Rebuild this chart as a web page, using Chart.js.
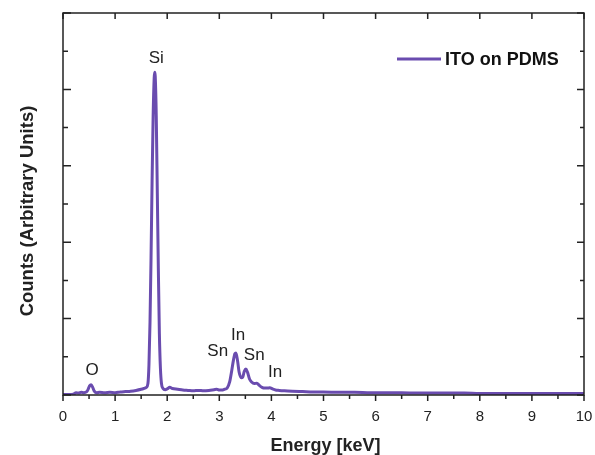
<!DOCTYPE html>
<html>
<head>
<meta charset="utf-8">
<script src="https://cdn.jsdelivr.net/npm/chart.js@4"></script>
<style>
  body { margin: 0; background: #fff; }
  canvas { display: block; }
</style>
</head>
<body>
<canvas id="eds" width="595" height="455"></canvas>
<script>
// Espectro EDS (energia em keV, contagens em unidades arbitrarias)
const energia = [0, 0.1, 0.2, 0.25, 0.3, 0.35, 0.4, 0.45, 0.48, 0.51, 0.54, 0.57, 0.6, 0.65, 0.7, 0.8, 0.9, 1.0,
  1.1, 1.2, 1.3, 1.4, 1.5, 1.55, 1.6, 1.63, 1.65, 1.67, 1.69, 1.71, 1.73, 1.75, 1.76, 1.77, 1.79, 1.81, 1.83,
  1.85, 1.87, 1.89, 1.92, 1.96, 2.0, 2.05, 2.1, 2.2, 2.3, 2.4, 2.5, 2.6, 2.7, 2.8, 2.9, 2.95, 3.0, 3.05, 3.1,
  3.15, 3.2, 3.24, 3.27, 3.3, 3.32, 3.35, 3.38, 3.42, 3.45, 3.48, 3.51, 3.54, 3.58, 3.62, 3.67, 3.72, 3.77,
  3.82, 3.87, 3.92, 3.97, 4.02, 4.08, 4.15, 4.25, 4.4, 4.6, 4.8, 5.0, 5.3, 5.6, 5.9, 6.2, 6.5, 6.8, 7.1, 7.4,
  7.7, 8.0, 8.3, 8.6, 8.9, 9.2, 9.5, 9.8, 10.0];
const contagens = [0.01, 0.01, 0.02, 0.06, 0.05, 0.07, 0.06, 0.08, 0.14, 0.24, 0.27, 0.2, 0.1, 0.06, 0.07, 0.06, 0.07, 0.06,
  0.08, 0.09, 0.1, 0.12, 0.15, 0.17, 0.2, 0.3, 0.8, 1.9, 3.6, 5.6, 7.3, 8.3, 8.45, 8.35, 7.3, 5.3, 3.3,
  1.6, 0.7, 0.3, 0.17, 0.14, 0.16, 0.2, 0.17, 0.15, 0.13, 0.12, 0.11, 0.12, 0.11, 0.12, 0.14, 0.15, 0.13, 0.13, 0.15,
  0.18, 0.35, 0.65, 0.9, 1.08, 1.1, 0.9, 0.6, 0.45, 0.47, 0.62, 0.68, 0.6, 0.42, 0.34, 0.3, 0.31, 0.25,
  0.2, 0.18, 0.18, 0.19, 0.16, 0.13, 0.12, 0.11, 0.1, 0.09, 0.08, 0.08, 0.07, 0.07, 0.06, 0.06, 0.06, 0.05, 0.05, 0.05,
  0.05, 0.04, 0.04, 0.04, 0.04, 0.04, 0.04, 0.04, 0.04];

// Rotulos dos picos (elemento, energia, altura do texto)
const picos = ['O', 'Si', 'Sn', 'In', 'Sn', 'In'];
const picosX = [0.56, 1.79, 2.97, 3.36, 3.67, 4.07];
const picosY = [0.52, 8.69, 1.02, 1.44, 0.92, 0.47];

const rotulosX = ['0', '1', '2', '3', '4', '5', '6', '7', '8', '9', '10'];
const marcasY = [0, 1, 2, 3, 4, 5, 6, 7, 8, 9, 10];

const COR = '#6a4caf';
const FONTE = '"Liberation Sans", Arial, sans-serif';

// Plugin: moldura, marcas, rotulos, titulos e legenda
const molduraPlugin = {
    id: 'moldura',
    afterDraw(chart) {
        const { ctx, chartArea: { left, right, top, bottom }, scales: { x, y } } = chart;
        ctx.save();
        ctx.strokeStyle = '#222';
        ctx.lineWidth = 1.5;
        ctx.strokeRect(left, top, right - left, bottom - top);

        ctx.beginPath();
        // eixo x: marcas principais e secundarias para fora (baixo), principais para dentro no topo
        rotulosX.forEach((r, i) => {
            const px = x.getPixelForValue(i);
            ctx.moveTo(px, bottom); ctx.lineTo(px, bottom + 6);
            ctx.moveTo(px, top); ctx.lineTo(px, top + 6);
            if (i < rotulosX.length - 1) {
                const pm = x.getPixelForValue(i + 0.5);
                ctx.moveTo(pm, bottom); ctx.lineTo(pm, bottom + 4);
            }
        });
        // eixo y: marcas para dentro
        marcasY.forEach(v => {
            const py = y.getPixelForValue(v);
            const len = v % 2 === 0 ? 8 : 5;
            ctx.moveTo(left, py); ctx.lineTo(left + len, py);
            ctx.moveTo(right, py); ctx.lineTo(right - len + 1, py);
        });
        ctx.stroke();

        // rotulos do eixo x
        ctx.fillStyle = '#222';
        ctx.font = '15px ' + FONTE;
        ctx.textAlign = 'center';
        ctx.textBaseline = 'alphabetic';
        rotulosX.forEach((r, i) => ctx.fillText(r, x.getPixelForValue(i), 421));

        // titulos
        ctx.font = 'bold 18px ' + FONTE;
        ctx.fillText('Energy [keV]', (left + right) / 2 + 2, 451);
        ctx.save();
        ctx.translate(33, 211);
        ctx.rotate(-Math.PI / 2);
        ctx.font = 'bold 18.5px ' + FONTE;
        ctx.fillText('Counts (Arbitrary Units)', 0, 0);
        ctx.restore();

        // rotulos dos picos
        ctx.font = '17px ' + FONTE;
        picos.forEach((p, i) => ctx.fillText(p, x.getPixelForValue(picosX[i]), y.getPixelForValue(picosY[i])));

        // legenda
        ctx.strokeStyle = COR;
        ctx.lineWidth = 3;
        ctx.beginPath();
        ctx.moveTo(397, 59); ctx.lineTo(441, 59);
        ctx.stroke();
        ctx.fillStyle = '#111';
        ctx.font = 'bold 18px ' + FONTE;
        ctx.textAlign = 'left';
        ctx.fillText(chart.data.datasets[0].label, 445, 65);
        ctx.restore();
    }
};

new Chart(document.getElementById('eds'), {
    type: 'line',
    data: {
        datasets: [{
            label: 'ITO on PDMS',
            data: energia.map((e, i) => ({ x: e, y: contagens[i] })),
            borderColor: COR,
            borderWidth: 3,
            pointRadius: 0,
            cubicInterpolationMode: 'monotone',
            fill: false
        }]
    },
    options: {
        responsive: false,
        animation: false,
        layout: { padding: { left: 63, right: 11, top: 13, bottom: 60 } },
        plugins: {
            legend: { display: false },
            tooltip: { enabled: false }
        },
        scales: {
            x: { type: 'linear', min: 0, max: 10, display: false },
            y: { min: 0, max: 10, display: false }
        }
    },
    plugins: [molduraPlugin]
});
</script>
</body>
</html>
